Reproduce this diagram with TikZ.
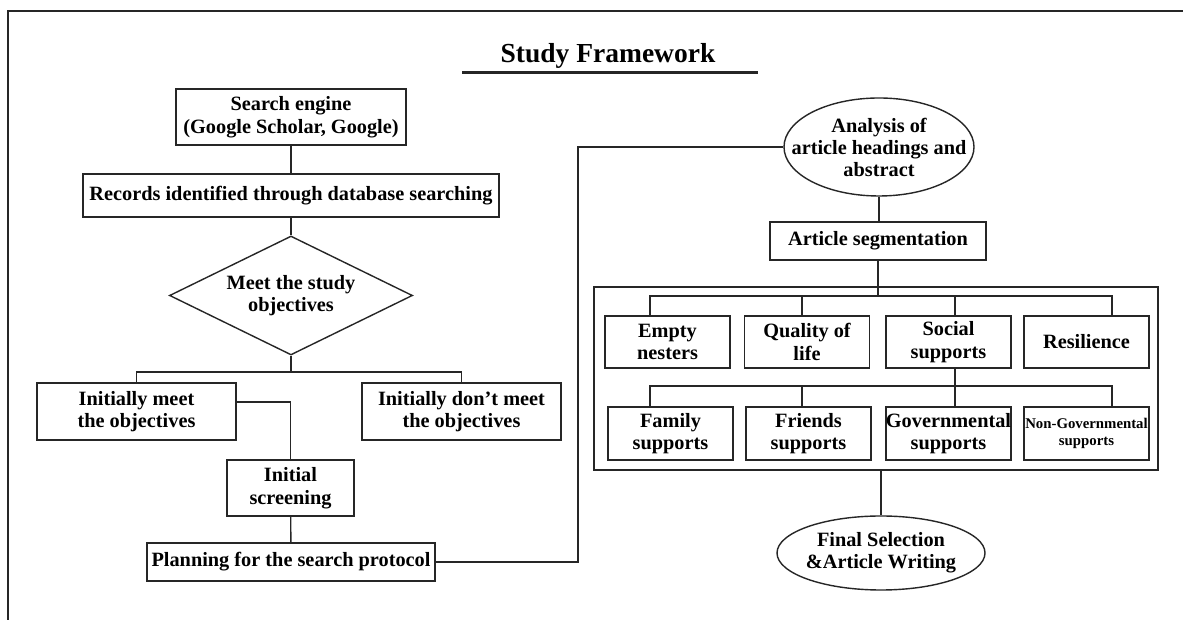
\documentclass[tikz,border=0pt]{standalone}
\usepackage{fontspec}
\setmainfont{Liberation Serif}
\usetikzlibrary{shapes.geometric,calc}
\definecolor{ink}{RGB}{38,38,38}
\tikzset{
  box/.style={draw=ink, line width=1.4pt, rectangle, inner sep=0pt, align=center,
    font=\fontsize{20.3}{22.5}\selectfont\bfseries, text=black},
  oval/.style={draw=ink, line width=1.4pt, ellipse, inner sep=0pt},
  ovaltext/.style={align=center, font=\fontsize{20.3}{22}\selectfont\bfseries, text=black, inner sep=0pt},
  conn/.style={draw=ink, line width=1.4pt},
  rowbox/.style={box, minimum width=125pt},
}
\begin{document}
\begin{tikzpicture}[x=1pt,y=1pt]
\useasboundingbox (0,0) rectangle (1183,620);
\fill[white] (0,0) rectangle (1183,620);
% outer frame (cropped at right and bottom)
\draw[ink, line width=1.7pt] (8,-10) -- (8,609) -- (1195,609);

% title
\node[font=\fontsize{27.5}{30}\selectfont\bfseries, anchor=base, inner sep=0pt] (title) at (608,557) {Study Framework};
\draw[ink, line width=3pt] ($(title.base)+(-146,-10)$) -- ($(title.base)+(150,-10)$);

% left column
\node[box, minimum width=230pt, minimum height=56pt] (search) at (291,503) {Search engine\\(Google Scholar, Google)};
\node[box, minimum width=416pt, minimum height=43pt] (records) at (291,424.5) {Records identified through database searching};
\node[box, diamond, aspect=2.04, minimum width=243pt, minimum height=119pt] (meetobj) at (291,324.5) {Meet the study\\objectives};
\node[box, minimum width=199pt, minimum height=57pt] (meet) at (136.5,208.5) {Initially meet\\the objectives};
\node[box, minimum width=199pt, minimum height=57pt] (dont) at (461.5,208.5) {Initially don’t meet\\the objectives};
\node[box, minimum width=127pt, minimum height=56pt] (screen) at (290.5,132) {Initial\\screening};
\node[box, minimum width=288pt, minimum height=38pt] (planning) at (291,58) {Planning for the search protocol};

\draw[conn] (search) -- (records);
\draw[conn] (records) -- (meetobj);
\coordinate (b1) at (291,248);
\draw[conn] (meetobj.south) -- (b1);
\draw[conn] (meet.north) -- (meet.north |- b1) -- (dont.north |- b1) -- (dont.north);
\draw[conn] ($(meet.east)+(0,9.5)$) -| (screen.north);
\draw[conn] (screen) -- (planning);

% right column
\node[oval, minimum width=190pt, minimum height=98pt,
  label={[ovaltext]center:Analysis of\\article headings and\\abstract}] (analysis) at (879,473) {};
\coordinate (cv) at (578,0);
\draw[conn] (planning.east) -| (cv |- analysis.west) -- (analysis.west);

\node[box, minimum width=216pt, minimum height=38pt] (seg) at (878,379) {Article segmentation};
\draw[conn] (analysis.south) -- (analysis.south |- seg.north);

\node[draw=ink, line width=1.4pt, rectangle, inner sep=0pt, minimum width=564pt, minimum height=183pt] (group) at (876,241.5) {};

\node[rowbox, minimum height=52pt] (emptyn) at (667.5,278) {Empty\\nesters};
\node[rowbox, minimum height=52pt] (quality) at (807,278) {Quality of\\life};
\node[rowbox, minimum height=52pt] (social) at (948.5,278) {Social\\supports};
\node[rowbox, minimum height=52pt] (resil) at (1086.5,278) {Resilience};

\node[rowbox, minimum height=53pt] (family) at (670.5,186.5) {Family\\supports};
\node[rowbox, minimum height=53pt] (friends) at (808.5,186.5) {Friends\\supports};
\node[rowbox, minimum height=53pt] (gov) at (948.5,186.5) {Governmental\\supports};
\node[rowbox, minimum height=53pt, font=\fontsize{14.8}{17.5}\selectfont\bfseries] (nongov) at (1086.5,186.5) {Non-Governmental\\supports};

\coordinate (b2) at (878,324);
\draw[conn] (seg.south) -- (b2);
\coordinate (v1) at (650,324);
\coordinate (v2) at (802,324);
\coordinate (v3) at (955,324);
\coordinate (v4) at (1112,324);
\draw[conn] (v1 |- emptyn.north) -- (v1) -- (v4) -- (v4 |- resil.north);
\draw[conn] (v2) -- (v2 |- quality.north);
\draw[conn] (v3) -- (v3 |- social.north);

\coordinate (w1) at (650,234);
\coordinate (w2) at (802,234);
\coordinate (w3) at (955,234);
\coordinate (w4) at (1112,234);
\draw[conn] (w1 |- family.north) -- (w1) -- (w4) -- (w4 |- nongov.north);
\draw[conn] (w2) -- (w2 |- friends.north);
\draw[conn] (w3 |- social.south) -- (w3 |- gov.north);

\node[oval, minimum width=208pt, minimum height=74pt,
  label={[ovaltext]center:Final Selection\\\&Article Writing}] (final) at (881,67) {};
\draw[conn] (final.north |- group.south) -- (final.north);
\end{tikzpicture}
\end{document}
